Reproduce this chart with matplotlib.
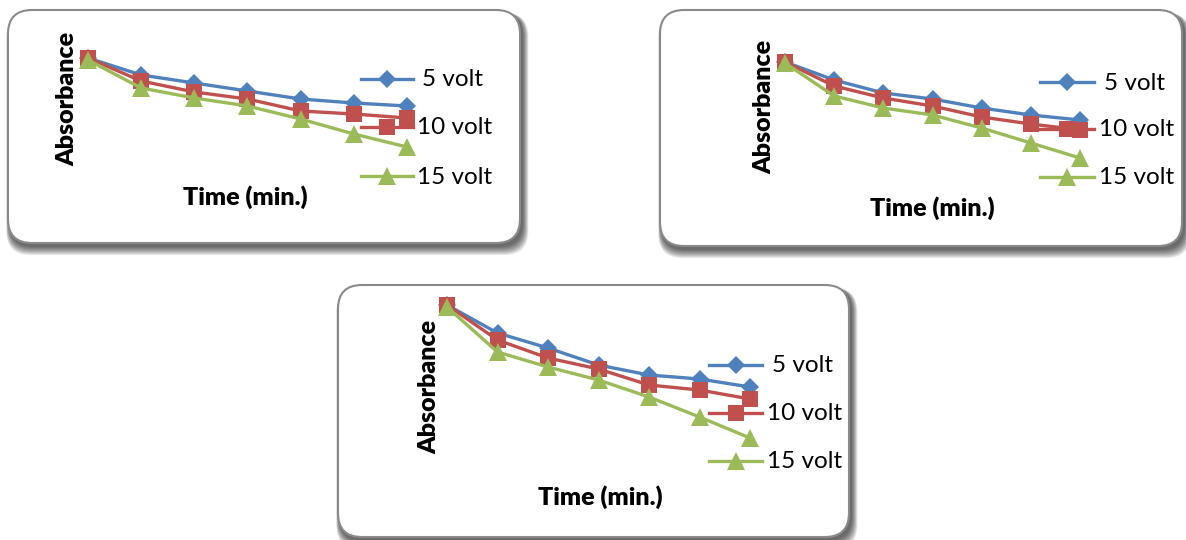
import matplotlib
matplotlib.use("Agg")
import matplotlib.pyplot as plt
from matplotlib.patches import FancyBboxPatch
from matplotlib.lines import Line2D

# ---------------- data ----------------
time_min = [0, 5, 10, 15, 20, 25, 30]
series_labels = ["5 volt", "10 volt", "15 volt"]

p1_5v = [1.000, 0.932, 0.900, 0.868, 0.836, 0.820, 0.808]
p1_10v = [1.000, 0.908, 0.864, 0.836, 0.788, 0.776, 0.760]
p1_15v = [0.992, 0.880, 0.840, 0.808, 0.756, 0.696, 0.644]

p2_5v = [1.000, 0.928, 0.876, 0.852, 0.816, 0.788, 0.768]
p2_10v = [1.000, 0.904, 0.856, 0.824, 0.780, 0.752, 0.728]
p2_15v = [0.996, 0.864, 0.816, 0.788, 0.736, 0.676, 0.616]

p3_5v = [1.000, 0.888, 0.828, 0.760, 0.720, 0.704, 0.672]
p3_10v = [1.000, 0.860, 0.788, 0.744, 0.680, 0.660, 0.624]
p3_15v = [0.992, 0.812, 0.752, 0.700, 0.632, 0.552, 0.468]

x_label = "Time (min.)"
y_label = "Absorbance"

# ---------------- style ----------------
W, H = 1186, 540
colors = ["#4F81BD", "#C0504D", "#9BBB59"]
markers = ["D", "s", "^"]
msizes = [9.5, 11.5, 12.5]
LW = 2.4
FONT = "Lato"

fig = plt.figure(figsize=(W / 100, H / 100), dpi=100)
fig.patch.set_facecolor("white")

bg = fig.add_axes([0, 0, 1, 1], zorder=0)
bg.set_xlim(0, W)
bg.set_ylim(H, 0)
bg.axis("off")

fg = fig.add_axes([0, 0, 1, 1], zorder=3)
fg.set_xlim(0, W)
fg.set_ylim(H, 0)
fg.axis("off")
fg.patch.set_alpha(0)

panels = [
    dict(box=(8, 10, 520, 243), xr=(88, 407), p0=58,
         data=[p1_5v, p1_10v, p1_15v],
         ylab=(67, 99), xlab=(245, 197),
         leg_x=(361, 413), leg_y=[79, 127, 176], txt_x=[422, 417, 417]),
    dict(box=(660, 10, 1182, 246), xr=(785, 1080), p0=62,
         data=[p2_5v, p2_10v, p2_15v],
         ylab=(764, 107), xlab=(932, 208),
         leg_x=(1040, 1094), leg_y=[82, 129, 177], txt_x=[1104, 1099, 1099]),
    dict(box=(338, 285, 849, 537), xr=(447, 750), p0=305,
         data=[p3_5v, p3_10v, p3_15v],
         ylab=(429, 387), xlab=(600, 497),
         leg_x=(709, 762), leg_y=[365, 413, 461], txt_x=[772, 767, 767]),
]

PX_PER_UNIT = 250.0
Y_SPAN = 0.5

for P in panels:
    x0, y0, x1, y1 = P["box"]
    # shadow
    for i in range(10):
        sh = FancyBboxPatch((x0 + 1 - i * 0.3, y0 + 2 + i * 0.1),
                            (x1 - x0) + 2 + i * 0.9, (y1 - y0) + 2 + i * 0.8,
                            boxstyle="round,pad=0,rounding_size=24",
                            facecolor="black", edgecolor="none",
                            alpha=0.08, zorder=1)
        bg.add_patch(sh)
    box = FancyBboxPatch((x0, y0), x1 - x0, y1 - y0,
                         boxstyle="round,pad=0,rounding_size=24",
                         facecolor="white", edgecolor="#8a8a8a",
                         linewidth=1.5, zorder=2)
    bg.add_patch(box)

    # data axes
    ax_l, ax_r = P["xr"]
    top_px = P["p0"]
    bot_px = top_px + Y_SPAN * PX_PER_UNIT
    ax = fig.add_axes([ax_l / W, 1 - bot_px / H, (ax_r - ax_l) / W,
                       (bot_px - top_px) / H], zorder=2)
    ax.set_xlim(time_min[0], time_min[-1])
    ax.set_ylim(1.0 - Y_SPAN, 1.0)
    ax.axis("off")
    ax.patch.set_alpha(0)
    for vals, c, m, ms in zip(P["data"], colors, markers, msizes):
        ax.plot(time_min, vals, color=c, lw=LW, marker=m, ms=ms,
                markeredgewidth=0, clip_on=False)

    # legend
    lx0, lx1 = P["leg_x"]
    for lab, c, m, ms, ly, tx in zip(series_labels, colors, markers, msizes,
                                     P["leg_y"], P["txt_x"]):
        fg.add_line(Line2D([lx0, lx1], [ly, ly], color=c, lw=LW))
        fg.add_line(Line2D([(lx0 + lx1) / 2], [ly], color=c, marker=m,
                           ms=ms, markeredgewidth=0, lw=0))
        fg.text(tx, ly + 1, lab, fontsize=17.5, family=FONT, color="black",
                ha="left", va="center")

    # axis titles
    fg.text(P["ylab"][0], P["ylab"][1], y_label, rotation=90,
            fontsize=18, fontweight="heavy", family=FONT,
            ha="center", va="center")
    fg.text(P["xlab"][0], P["xlab"][1], x_label,
            fontsize=18, fontweight="heavy", family=FONT,
            ha="center", va="center")

fig.savefig("out.png", dpi=100, facecolor="white")
